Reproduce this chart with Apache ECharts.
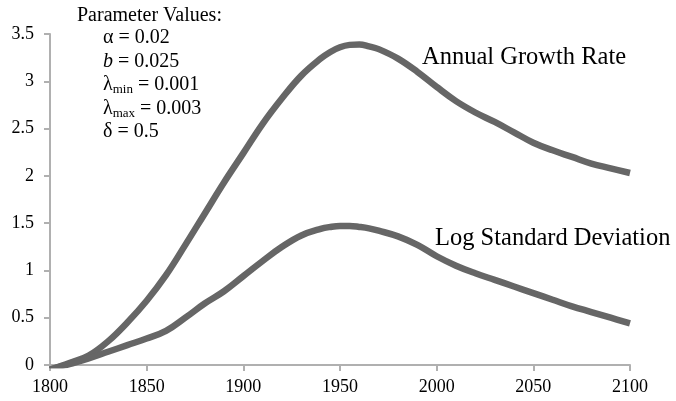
<!doctype html>
<html>
<head>
<meta charset="utf-8">
<title>Annual Growth Rate</title>
<script src="https://cdn.jsdelivr.net/npm/echarts@6/dist/echarts.min.js"></script>
<style>
  html, body { margin: 0; padding: 0; background: #fff; }
  #chart { width: 676px; height: 401px; }
</style>
</head>
<body>
<div id="chart"></div>
<script>
// years (x) and the two curves
var years = [1800, 1810, 1820, 1830, 1840, 1850, 1860, 1870, 1880, 1890,
             1900, 1910, 1920, 1930, 1940, 1945, 1950, 1955, 1960, 1965, 1970, 1980, 1990,
             2000, 2010, 2020, 2030, 2040, 2050, 2060, 2070, 2080, 2090, 2100];
var growthRate = [-0.05, 0.02, 0.10, 0.25, 0.45, 0.68, 0.95, 1.27, 1.60, 1.93,
                  2.24, 2.55, 2.82, 3.06, 3.24, 3.31, 3.36, 3.385, 3.39, 3.37, 3.34, 3.24, 3.10,
                  2.94, 2.79, 2.67, 2.57, 2.46, 2.35, 2.27, 2.20, 2.13, 2.08, 2.03];
var logStdDev = [-0.05, 0.01, 0.07, 0.14, 0.21, 0.28, 0.36, 0.50, 0.65, 0.78,
                 0.94, 1.10, 1.25, 1.37, 1.44, 1.46, 1.47, 1.47, 1.46, 1.445, 1.42, 1.36, 1.27,
                 1.15, 1.05, 0.97, 0.90, 0.83, 0.76, 0.69, 0.62, 0.56, 0.50, 0.44];
var seriesNames = ['Annual Growth Rate', 'Log Standard Deviation'];
var xTicks = [1800, 2100, 50];   // min, max, interval
var yTicks = [0, 3.5, 0.5];

// parameter box text (rich text)
var paramTitle = 'Parameter Values:';
var paramLines = [
  '{t|α = 0.02}',
  '{i|b}{t| = 0.025}',
  '{t|λ}{s|min}{t| = 0.001}',
  '{t|λ}{s|max}{t| = 0.003}',
  '{t|δ = 0.5}'
];

function pairs(xs, ys) {
  var out = [];
  for (var i = 0; i < xs.length; i++) out.push([xs[i], ys[i]]);
  return out;
}

var serif = 'Liberation Serif';
var myChart = echarts.init(document.getElementById('chart'));

var lineStyle = { color: '#666666', width: 6.5 };

var option = {
  backgroundColor: '#ffffff',
  animation: false,
  textStyle: { fontFamily: serif },
  grid: { left: 50, right: 46, top: 34, bottom: 36 },
  xAxis: {
    type: 'value',
    min: xTicks[0], max: xTicks[1], interval: xTicks[2],
    axisLine: { lineStyle: { color: '#b0b0b0', width: 2 } },
    axisTick: { show: true, length: 6, lineStyle: { color: '#b0b0b0', width: 2 } },
    axisLabel: {
      color: '#000', fontSize: 18, fontFamily: serif, margin: 13,
      formatter: function (v) { return String(v); }
    },
    splitLine: { show: false }
  },
  yAxis: {
    type: 'value',
    min: yTicks[0], max: yTicks[1], interval: yTicks[2],
    axisLine: { show: true, lineStyle: { color: '#b0b0b0', width: 2 } },
    axisTick: { show: true, length: 6, lineStyle: { color: '#b0b0b0', width: 2 } },
    axisLabel: { color: '#000', fontSize: 18, fontFamily: serif, margin: 16 },
    splitLine: { show: false }
  },
  series: [
    {
      name: seriesNames[0],
      type: 'line',
      smooth: 0.4,
      symbol: 'none',
      lineStyle: lineStyle,
      data: pairs(years, growthRate)
    },
    {
      name: seriesNames[1],
      type: 'line',
      smooth: 0.4,
      symbol: 'none',
      lineStyle: lineStyle,
      data: pairs(years, logStdDev)
    }
  ],
  graphic: [
    {
      type: 'text', left: 422, top: 45,
      style: { text: seriesNames[0], fontSize: 24.5, fontFamily: serif, fill: '#000' }
    },
    {
      type: 'text', left: 435, top: 226,
      style: { text: seriesNames[1], fontSize: 24.5, fontFamily: serif, fill: '#000' }
    },
    {
      type: 'text', left: 77, top: 6,
      style: { text: paramTitle, fontSize: 20, fontFamily: serif, fill: '#000' }
    },
    {
      type: 'text', left: 103, top: 26,
      style: {
        text: paramLines.join('\n'),
        fontFamily: serif,
        fill: '#000',
        lineHeight: 23.5,
        rich: {
          t: { fontSize: 20, fontFamily: serif, fill: '#000', lineHeight: 23.5 },
          i: { fontSize: 20, fontFamily: serif, fontStyle: 'italic', fill: '#000', lineHeight: 23.5 },
          s: { fontSize: 13, fontFamily: serif, fill: '#000', verticalAlign: 'bottom', padding: [8, 0, 0, 0], lineHeight: 23.5 }
        }
      }
    }
  ]
};
myChart.setOption(option);
</script>
</body>
</html>
